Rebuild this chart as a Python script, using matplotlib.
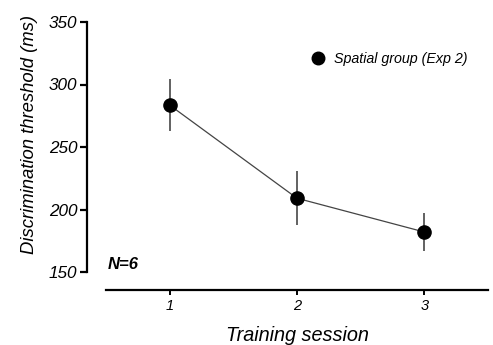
import numpy as np
import matplotlib.pyplot as plt

plt.rcParams['font.family'] = ['Liberation Sans', 'DejaVu Sans']

sessions = [1, 2, 3]
threshold = [283.5, 209, 182]
err = [21, 21.5, 15]
yticks = [150, 200, 250, 300, 350]

fig = plt.figure(figsize=(4.93, 3.45), dpi=100)
ax = fig.add_axes([106/493, 73/345, 382/493, 250/345])

ax.plot(sessions, threshold, '-', color='#444444', lw=0.9, zorder=2)
ax.errorbar(sessions, threshold, yerr=err, fmt='none', ecolor='#555555',
            elinewidth=1.3, capsize=0, zorder=1)
ax.plot(sessions, threshold, 'o', color='black', ms=9.5, zorder=3,
        label='Spatial group (Exp 2)')

ax.set_xlim(0.5, 3.5)
ax.set_ylim(150, 350)
ax.set_xticks(sessions)
ax.set_yticks(yticks)

for s in ['top', 'right']:
    ax.spines[s].set_visible(False)
ax.spines['left'].set_position(('outward', 13.7))
ax.spines['bottom'].set_position(('outward', 13))
ax.spines['left'].set_linewidth(1.6)
ax.spines['bottom'].set_linewidth(1.6)
ax.tick_params(axis='y', length=5, width=1.6, labelsize=12.3, pad=2)
ax.tick_params(axis='x', length=3.5, width=1.4, labelsize=10.5, pad=3)
for lab in ax.get_xticklabels() + ax.get_yticklabels():
    lab.set_fontstyle('italic')

ax.set_ylabel('Discrimination threshold (ms)', fontsize=13.3, style='italic')
ax.yaxis.set_label_coords(-0.178, 0.55)
ax.set_xlabel('Training session', fontsize=14.3, style='italic', labelpad=9)

ax.text(0.005, 0.0, 'N=6', transform=ax.transAxes, fontsize=12,
        style='italic', weight='bold', va='bottom', ha='left')

ax.legend(loc='upper right', bbox_to_anchor=(0.98, 0.93), frameon=False,
          handlelength=1.0, handletextpad=0.6, prop={'style': 'italic', 'size': 10.3},
          markerscale=0.95)

fig.savefig('out.png', dpi=100)
